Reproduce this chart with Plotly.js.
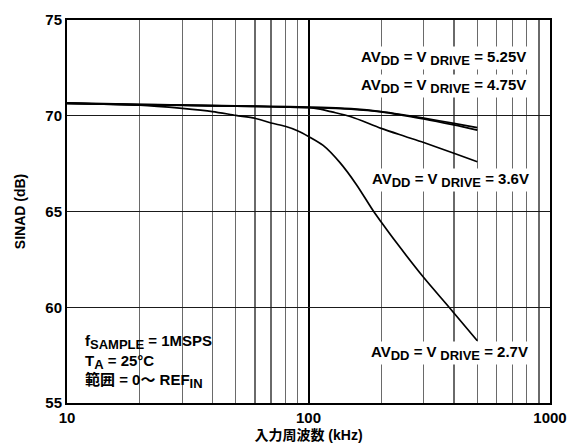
<!DOCTYPE html>
<html>
<head>
<meta charset="utf-8">
<script src="https://cdn.plot.ly/plotly-3.0.1.min.js"></script>
<style>
  html, body { margin: 0; padding: 0; background: #fff; }
  #chart { width: 567px; height: 448px; }
</style>
</head>
<body>
<div id="chart"></div>
<script>
// Input frequency (kHz) and SINAD (dB) for each supply setting
const freq525 = [10, 20, 30, 50, 70, 100, 130, 150, 200, 250, 300, 400, 500];
const sinad525 = [70.67, 70.6, 70.56, 70.52, 70.49, 70.45, 70.41, 70.37, 70.22, 70.04, 69.88, 69.6, 69.38];

const freq475 = [10, 20, 30, 50, 70, 100, 130, 150, 200, 250, 300, 400, 500];
const sinad475 = [70.65, 70.58, 70.55, 70.5, 70.47, 70.43, 70.39, 70.35, 70.2, 70.01, 69.84, 69.52, 69.25];

const freq36 = [10, 20, 30, 50, 70, 100, 110, 125, 150, 200, 250, 300, 400, 500];
const sinad36 = [70.65, 70.57, 70.54, 70.5, 70.47, 70.42, 70.36, 70.2, 69.95, 69.34, 68.93, 68.6, 68.04, 67.6];

const freq27 = [10, 20, 30, 40, 50, 60, 70, 80, 90, 100, 115, 135, 158, 185, 200, 232, 300, 382, 500];
const sinad27 = [70.65, 70.55, 70.38, 70.22, 70.02, 69.87, 69.62, 69.45, 69.22, 68.92, 68.45, 67.55, 66.4, 65.05, 64.45, 63.35, 61.55, 60.0, 58.25];

// Subscripts in this chart are drawn a little larger than the default <sub> size
function sub(s) { return '<sub><span style="font-size:13px">' + s + '</span></sub>'; }

const curveLabels = [
  'AV' + sub('DD') + ' = V' + sub(' DRIVE') + ' = 5.25V',
  'AV' + sub('DD') + ' = V' + sub(' DRIVE') + ' = 4.75V',
  'AV' + sub('DD') + ' = V' + sub(' DRIVE') + ' = 3.6V',
  'AV' + sub('DD') + ' = V' + sub(' DRIVE') + ' = 2.7V'
];
const conditionsText = 'f' + sub('SAMPLE') + ' = 1MSPS<br>T' + sub('A') + ' = 25°C<br>範囲 = 0〜 REF' + sub('IN');

const xTickVals = [10, 100, 1000];
const xTickText = ['10', '100', '1000'];
const yTickVals = [55, 60, 65, 70, 75];

const FONT = 'Liberation Sans, Arial, Noto Sans CJK JP, sans-serif';

function curve(x, y) {
  return {
    x: x, y: y, type: 'scatter', mode: 'lines',
    line: { color: '#000', width: 1.7, shape: 'spline', smoothing: 0.8 },
    hoverinfo: 'skip', showlegend: false
  };
}

const data = [
  curve(freq525, sinad525),
  curve(freq475, sinad475),
  curve(freq36, sinad36),
  curve(freq27, sinad27)
];

const labelStyle = {
  xref: 'paper', yref: 'paper', showarrow: false,
  xanchor: 'right', yanchor: 'middle',
  bgcolor: '#fff', borderpad: 1,
  font: { family: FONT, size: 15, color: '#000', weight: 'bold' }
};

const layout = {
  width: 567, height: 448,
  margin: { l: 67, r: 17, t: 20, b: 45 },
  paper_bgcolor: '#fff', plot_bgcolor: '#fff',
  font: { family: FONT, color: '#000' },
  xaxis: {
    type: 'log', range: [1, 3],
    tickvals: xTickVals, ticktext: xTickText,
    ticks: '', ticklen: 0,
    tickfont: { size: 15, family: FONT, weight: 'bold' },
    showgrid: true, gridcolor: '#000', gridwidth: 2,
    minor: { dtick: 'D1', showgrid: true, gridcolor: '#6a6a6a', gridwidth: 1.2, ticks: '' },
    showline: true, linecolor: '#000', linewidth: 2, mirror: true,
    zeroline: false,
    title: { text: '入力周波数 (kHz)', font: { size: 14, family: FONT, weight: 'bold' }, standoff: 5 }
  },
  yaxis: {
    range: [55, 75],
    tickvals: yTickVals,
    ticks: '', ticklen: 0,
    tickfont: { size: 15, family: FONT, weight: 'bold' },
    showgrid: true, gridcolor: '#1a1a1a', gridwidth: 1.2,
    showline: true, linecolor: '#000', linewidth: 2, mirror: true,
    zeroline: false,
    title: { text: 'SINAD (dB)', font: { size: 14, family: FONT, weight: 'bold' }, standoff: 16 }
  },
  shapes: [{
    type: 'rect', xref: 'paper', yref: 'paper',
    x0: 0.003, x1: 0.369, y0: 0.006, y1: 0.206,
    fillcolor: '#fff', line: { width: 0 }, layer: 'between'
  }],
  annotations: [
    Object.assign({}, labelStyle, { text: curveLabels[0], x: 0.955, y: 0.902 }),
    Object.assign({}, labelStyle, { text: curveLabels[1], x: 0.955, y: 0.828 }),
    Object.assign({}, labelStyle, { text: curveLabels[2], x: 0.961, y: 0.583 }),
    Object.assign({}, labelStyle, { text: curveLabels[3], x: 0.959, y: 0.131 }),
    {
      xref: 'paper', yref: 'paper', showarrow: false,
      xanchor: 'left', yanchor: 'middle', align: 'left',
      text: conditionsText, x: 0.033, y: 0.108,
      font: { family: FONT, size: 15, color: '#000', weight: 'bold' }
    }
  ]
};

Plotly.newPlot('chart', data, layout, { staticPlot: true, displayModeBar: false });
</script>
</body>
</html>
